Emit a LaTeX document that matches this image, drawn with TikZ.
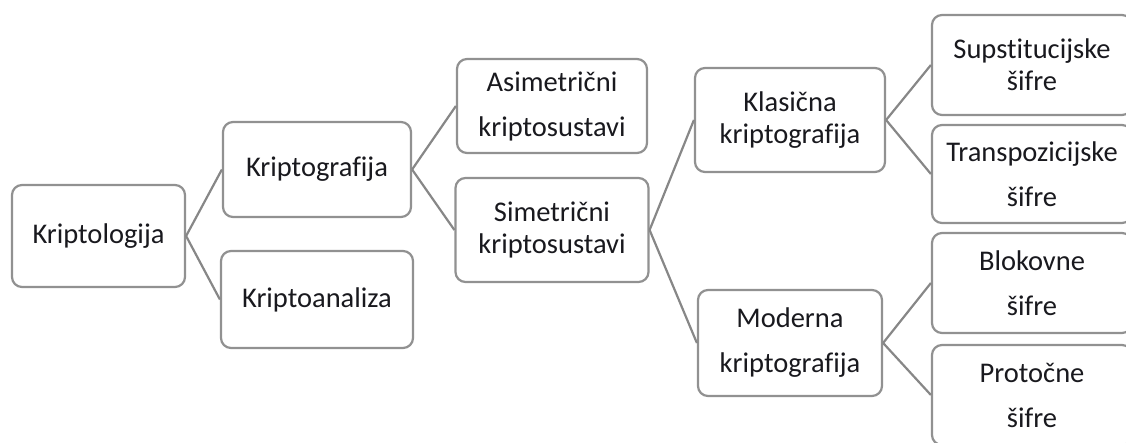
\documentclass[tikz,border=0pt]{standalone}
\usepackage{fontspec}
\setmainfont[Ligatures=CommonOff]{Carlito}
\usepackage{tikz}
\usetikzlibrary{positioning}

\definecolor{linegray}{RGB}{135,135,135}
\definecolor{boxgray}{RGB}{145,145,145}
\definecolor{textdark}{RGB}{25,25,30}

\begin{document}
\begin{tikzpicture}[x=0.5pt, y=-0.5pt,
    box/.style={draw=boxgray, line width=1.1pt, rounded corners=5pt, fill=white,
      align=center, inner sep=0pt, minimum width=95pt, minimum height=50pt,
      text=textdark, font=\fontsize{14.25}{16}\selectfont},
    link/.style={draw=linegray, line width=1.1pt}]

  \newcommand\XA{98.5};
  \newcommand\XB{317};
  \newcommand\XC{552};
  \newcommand\XD{790};
  \newcommand\XE{1032};
  \newcommand\WIDE{6.5pt};

  \useasboundingbox (0,0) rectangle (1126,443);
  \clip (0,0) rectangle (1126,443);

  % levels one and two
  \node[box, minimum width=86.5pt, minimum height=51pt] (kriptologija) at (\XA, 236) {Kriptologija};
  \node[box, minimum width=94pt, minimum height=47.5pt] (kriptografija) at (\XB, 169.5) {Kriptografija};
  \node[box, minimum width=96pt, minimum height=48.5pt] (kriptoanaliza) at (\XB, 299.5) {Kriptoanaliza};

  % level three
  \node[box, minimum height=47pt] (asimetricni) at (\XC, 106) {Asimetrični\\[\WIDE]kriptosustavi};
  \node[box, minimum width=96.5pt, minimum height=52pt] (simetricni) at (\XC, 230) {Simetrični\\kriptosustavi};

  % level four
  \node[box, minimum height=52pt] (klasicna) at (\XD, 120) {Klasična\\kriptografija};
  \node[box, minimum width=92pt, minimum height=53pt] (moderna) at (\XD, 343) {Moderna\\[\WIDE]kriptografija};

  % level five
  \node[box, minimum width=100pt] (supstitucijske) at (\XE, 65) {Supstitucijske\\šifre};
  \node[box, minimum width=100pt, minimum height=49pt] (transpozicijske) at (\XE, 174) {Transpozicijske\\[\WIDE]šifre};
  \node[box, minimum width=100pt] (blokovne) at (\XE, 283) {Blokovne\\[\WIDE]šifre};
  \node[box, minimum width=100pt] (protocne) at (\XE, 395) {Protočne\\[\WIDE]šifre};

  \draw[link] (kriptologija.east) -- (kriptografija.west);
  \draw[link] (kriptologija.east) -- (kriptoanaliza.west);
  \draw[link] (kriptografija.east) -- (asimetricni.west);
  \draw[link] (kriptografija.east) -- (simetricni.west);
  \draw[link] (simetricni.east) -- (klasicna.west);
  \draw[link] (simetricni.east) -- (moderna.west);
  \draw[link] (klasicna.east) -- (supstitucijske.west);
  \draw[link] (klasicna.east) -- (transpozicijske.west);
  \draw[link] (moderna.east) -- (blokovne.west);
  \draw[link] (moderna.east) -- (protocne.west);

\end{tikzpicture}
\end{document}
